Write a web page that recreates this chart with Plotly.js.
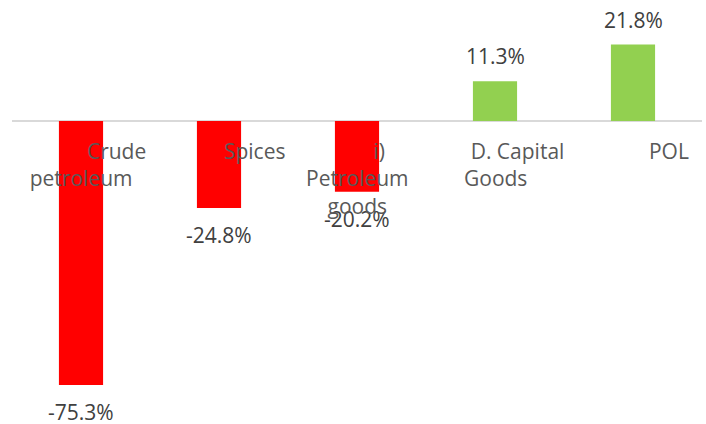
<!DOCTYPE html>
<html>
<head>
<meta charset="utf-8">
<script src="https://cdn.plot.ly/plotly-3.0.1.min.js"></script>
<style>
  html, body { margin: 0; padding: 0; background: #fff; }
  #chart { width: 706px; height: 424px; }
</style>
</head>
<body>
<div id="chart"></div>
<script>
// Export growth by item, % change
const categories = ['Crude petroleum', 'Spices', 'i) Petroleum goods', 'D. Capital Goods', 'POL'];
const values = [-75.3, -24.8, -20.2, 11.3, 21.8];
// axis labels as they wrap in the original (leading spaces push the first line right)
const axisLabels = [
  '\u00A0'.repeat(13) + 'Crude<br>petroleum',
  '\u00A0'.repeat(13) + 'Spices',
  '\u00A0'.repeat(8) + 'i)<br>Petroleum<br>goods',
  '\u00A0'.repeat(8) + 'D. Capital<br>Goods',
  '\u00A0'.repeat(13) + 'POL'
];

const RED = '#FF0000';
const GREEN = '#92D050';
const FONT = 'Open Sans, Liberation Sans, sans-serif';

const trace = {
  type: 'bar',
  x: categories,
  y: values,
  marker: { color: values.map(v => v < 0 ? RED : GREEN) },
  hoverinfo: 'skip'
};

// value labels above / below each bar
const valueLabels = values.map((v, i) => ({
  x: categories[i],
  y: v,
  text: v.toFixed(1) + '%',
  showarrow: false,
  yanchor: v < 0 ? 'top' : 'bottom',
  yshift: v < 0 ? -11 : 9,
  font: { family: FONT, size: 21, color: '#404040' }
}));

// category labels hanging from the zero line
const catLabels = axisLabels.map((t, i) => ({
  x: categories[i],
  y: 0,
  text: t,
  showarrow: false,
  yanchor: 'top',
  yshift: -14,
  align: 'center',
  font: { family: FONT, size: 21, color: '#595959' }
}));

const layout = {
  width: 706,
  height: 424,
  margin: { l: 12, r: 4, t: 0, b: 0 },
  paper_bgcolor: '#ffffff',
  plot_bgcolor: '#ffffff',
  showlegend: false,
  bargap: 0.68,
  xaxis: {
    type: 'category',
    showticklabels: false,
    showgrid: false,
    showline: false,
    ticks: '',
    fixedrange: true
  },
  yaxis: {
    range: [-86.4, 34.5],
    showticklabels: false,
    showgrid: false,
    showline: false,
    ticks: '',
    zeroline: true,
    zerolinecolor: '#D9D9D9',
    zerolinewidth: 1.5,
    fixedrange: true
  },
  annotations: valueLabels.concat(catLabels)
};

Plotly.newPlot('chart', [trace], layout, { displayModeBar: false, staticPlot: true });
</script>
</body>
</html>
